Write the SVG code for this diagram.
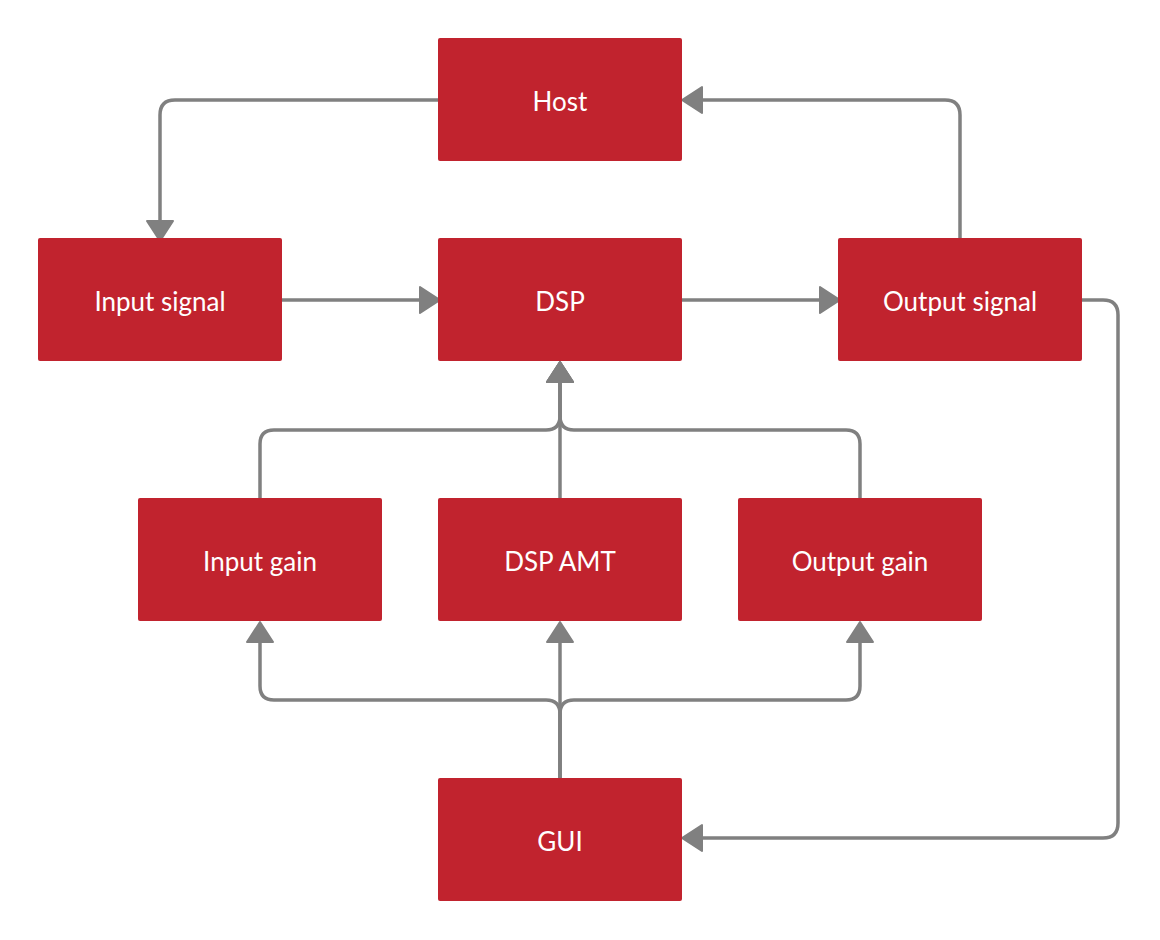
<svg xmlns="http://www.w3.org/2000/svg" width="1160" height="940" viewBox="0 0 1160 940">
<style>
.box{fill:#C1232E;}
.lbl{fill:#FFFFFF;font-family:Lato,"Liberation Sans",sans-serif;font-size:26px;text-anchor:middle;}
.c{fill:none;stroke:#808080;stroke-width:3.5;stroke-linecap:round;stroke-linejoin:round;}
</style>
<defs>
<marker id="ah" markerUnits="userSpaceOnUse" viewBox="-2 -2 24 30" markerWidth="24" markerHeight="30" refX="17" refY="13" orient="auto">
<path d="M0,0 L20,13 L0,26 Z" fill="#808080" stroke="#808080" stroke-width="2" stroke-linejoin="round"/>
</marker>
</defs>
<rect width="1160" height="940" fill="#FFFFFF"/>
<g id="connectors">
<path class="c" d="M440,100 H175 Q160,100 160,115 V238" marker-end="url(#ah)"/>
<path class="c" d="M960,240 V115 Q960,100 945,100 H685" marker-end="url(#ah)"/>
<path class="c" d="M280,300 H437" marker-end="url(#ah)"/>
<path class="c" d="M680,300 H837" marker-end="url(#ah)"/>
<path class="c" d="M1080,300 H1103 Q1118,300 1118,315 V823 Q1118,838 1103,838 H685" marker-end="url(#ah)"/>
<path class="c" d="M260,500 V444 Q260,430 274,430 H546 Q560,430 560,416 V365" marker-end="url(#ah)"/>
<path class="c" d="M560,500 V365" marker-end="url(#ah)"/>
<path class="c" d="M860,500 V444 Q860,430 846,430 H574 Q560,430 560,416 V365" marker-end="url(#ah)"/>
<path class="c" d="M560,780 V625" marker-end="url(#ah)"/>
<path class="c" d="M560,780 V714 Q560,700 546,700 H274 Q260,700 260,686 V625" marker-end="url(#ah)"/>
<path class="c" d="M560,780 V714 Q560,700 574,700 H846 Q860,700 860,686 V625" marker-end="url(#ah)"/>
</g>
<g id="host"><rect class="box" x="438" y="38" width="244" height="123" rx="2"/><text class="lbl" x="560" y="111">Host</text></g>
<g id="input-signal"><rect class="box" x="38" y="238" width="244" height="123" rx="2"/><text class="lbl" x="160" y="311">Input signal</text></g>
<g id="dsp"><rect class="box" x="438" y="238" width="244" height="123" rx="2"/><text class="lbl" x="560" y="311">DSP</text></g>
<g id="output-signal"><rect class="box" x="838" y="238" width="244" height="123" rx="2"/><text class="lbl" x="960" y="311">Output signal</text></g>
<g id="input-gain"><rect class="box" x="138" y="498" width="244" height="123" rx="2"/><text class="lbl" x="260" y="571">Input gain</text></g>
<g id="dsp-amt"><rect class="box" x="438" y="498" width="244" height="123" rx="2"/><text class="lbl" x="560" y="571">DSP AMT</text></g>
<g id="output-gain"><rect class="box" x="738" y="498" width="244" height="123" rx="2"/><text class="lbl" x="860" y="571">Output gain</text></g>
<g id="gui"><rect class="box" x="438" y="778" width="244" height="123" rx="2"/><text class="lbl" x="560" y="851">GUI</text></g>
</svg>
